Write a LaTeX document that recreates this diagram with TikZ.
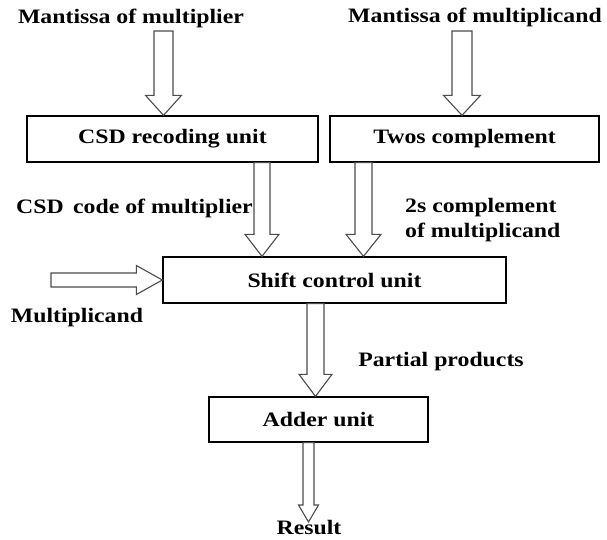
\documentclass[tikz,border=0pt]{standalone}
\usepackage{fontspec}
\setmainfont{Liberation Serif}[FakeStretch=1.16]
\usetikzlibrary{calc}
\tikzset{
  box/.style={draw=black, line width=1.3pt, minimum height=46pt, inner sep=0pt},
  lbl/.style={font=\fontsize{20.5}{25}\selectfont\bfseries, inner sep=0pt, text=black},
  blockarrow/.style={draw=black!70, line width=1.1pt, fill=white, line join=miter},
}
\newcommand{\blkdown}[5]{%
  \draw[blockarrow] let \p1=(#1), \p2=(#2) in
    (\x2-#3,\y1) -- (\x2-#3,\y2+#5) -- (\x2-#4,\y2+#5) -- (\x2,\y2)
    -- (\x2+#4,\y2+#5) -- (\x2+#3,\y2+#5) -- (\x2+#3,\y1) -- cycle;}
\newcommand{\blkright}[5]{%
  \draw[blockarrow] let \p1=(#1), \p2=(#2) in
    (\x1,\y2-#3) -- (\x2-#5,\y2-#3) -- (\x2-#5,\y2-#4) -- (\x2,\y2)
    -- (\x2-#5,\y2+#4) -- (\x2-#5,\y2+#3) -- (\x1,\y2+#3) -- cycle;}
\begin{document}
\begin{tikzpicture}[x=1pt,y=-1pt]
\useasboundingbox[fill=white] (0,0) rectangle (607,539);

% boxes
\node[box, minimum width=291pt, lbl] (csd) at (172.5,139) {CSD recoding unit};
\node[box, minimum width=269pt, lbl] (twos) at (464.5,139) {Twos complement};
\node[box, minimum width=343pt, lbl] (shift) at (334.5,280) {Shift control unit};
\node[box, minimum width=219pt, minimum height=45pt, lbl] (adder) at (318.5,419.5) {Adder unit};

% labels
\node[lbl] (mmul) at (131,18) {Mantissa of multiplier};
\node[lbl] (mcand) at (475,17) {Mantissa of multiplicand};
\node[lbl, anchor=west] (csdcode) at (16,208) {CSD\, code of multiplier};
\node[lbl, anchor=west, align=left] (twoscomp) at (405,220) {2s complement\\of multiplicand};
\node[lbl] (mcandin) at (77,318) {Multiplicand};
\node[lbl] (pp) at (441,362) {Partial products};
\node[lbl] (res) at (309,528) {Result};

% arrow reference points
\coordinate (tl) at (163.5,31);
\coordinate (tr) at (462,31);
\coordinate (ml) at (262,200);
\coordinate (mr) at (363.5,200);
\coordinate (mul) at (51,280);
\coordinate (sa) at (315.5,350);
\coordinate (ar) at (308.5,522);

% arrows
\blkdown{tl}{csd.north -| tl}{9.5pt}{18pt}{20pt}
\blkdown{tr}{twos.north -| tr}{10pt}{18.5pt}{20pt}
\blkdown{csd.south -| ml}{shift.north -| ml}{8pt}{17pt}{22pt}
\blkdown{twos.south -| mr}{shift.north -| mr}{8.5pt}{17.5pt}{22pt}
\blkright{mul}{shift.west}{7pt}{14.5pt}{26pt}
\blkdown{shift.south -| sa}{adder.north -| sa}{8.5pt}{16.5pt}{22pt}
\blkdown{adder.south -| ar}{ar}{5.5pt}{10pt}{17pt}
\end{tikzpicture}
\end{document}
